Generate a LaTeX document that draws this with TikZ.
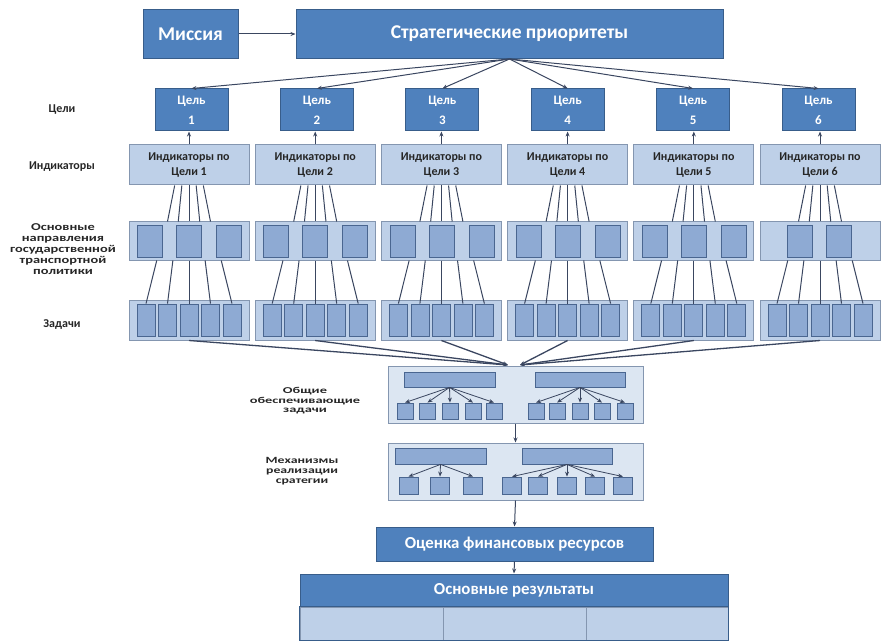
\documentclass[tikz,border=0pt]{standalone}
\usepackage{fontspec}
\setmainfont{Carlito}
\newfontfamily\dirfont[FakeStretch=1.37]{Carlito}
\newfontfamily\genfont[FakeStretch=1.6]{Carlito}
\newfontfamily\mechfont[FakeStretch=1.45]{Carlito}
\usetikzlibrary{arrows,positioning,shapes,calc,arrows.meta}
\definecolor{darkblue}{HTML}{4F81BD}
\definecolor{darkedge}{HTML}{385D8A}
\definecolor{lightblue}{HTML}{BED0E8}
\definecolor{lightedge}{HTML}{8496B0}
\definecolor{midblue}{HTML}{8EAAD3}
\definecolor{midedge}{HTML}{4A6690}
\definecolor{paleblue}{HTML}{DCE6F2}
\definecolor{linecol}{HTML}{3A4660}
\definecolor{labelcol}{HTML}{262626}

\begin{document}
\begin{tikzpicture}[x=1pt,y=-1pt,>={Stealth[length=5pt,width=4pt]},
    darkbox/.style={draw=darkedge,line width=1pt,fill=darkblue,text=white,inner sep=0pt,align=center,font=\fontsize{19.5}{22}\selectfont\bfseries},
    lightbox/.style={draw=lightedge,line width=1pt,fill=lightblue,text=labelcol,inner sep=0pt,align=center,minimum width=120pt,font=\fontsize{12}{15}\selectfont\bfseries},
    panel/.style={draw=lightedge,line width=1pt,fill=lightblue,inner sep=0pt,minimum width=120pt},
    innerbox/.style={draw=midedge,line width=0.8pt,fill=midblue,inner sep=0pt},
    sidelabel/.style={text=labelcol,align=center,font=\fontsize{12}{12}\selectfont\bfseries},
    link/.style={draw=linecol,line width=1pt}
  ]
    \useasboundingbox (0,0) rectangle (885,644);

    % Mission and priorities
    \node[darkbox,minimum width=95pt,minimum height=49pt] (mission) at (190.5,34) {Миссия};
    \node[darkbox,minimum width=427pt,minimum height=49pt] (prio) at (509.5,34) {Стратегические приоритеты};
    \draw[->,link] (mission) -- (prio);

    % Row labels
    \node[sidelabel] (lgoal) at (62,110) {Цели};
    \node[sidelabel] (lind) at (62,167) {Индикаторы};
    \node[sidelabel,font=\dirfont\fontsize{10.5}{11}\selectfont\bfseries] (ldir) at (63,249) {Основные\\направления\\государственной\\транспортной\\политики};
    \node[sidelabel] (ltask) at (62,325) {Задачи};

    % Goals
    \foreach \i in {1,...,6} {
      \node[darkbox,minimum width=73pt,minimum height=42pt,font=\fontsize{13}{20}\selectfont\bfseries] (g\i) at ({191.5+125.4*(\i-1)},110) {Цель\\ \i};
      \draw[->,link] (prio.south) -- (g\i.north);
    }

    % Indicators, directions and tasks per goal
    \foreach \i in {1,...,6} {
      \node[lightbox,minimum height=40pt] (i\i) at ({189+126.2*(\i-1)},165) {Индикаторы по\\Цели \i};
      \draw[->,link] (i\i.north) -- (i\i.north |- g\i.south);
      \node[panel,minimum height=38pt] (d\i) at ({189+126.2*(\i-1)},241) {};
      \node[panel,minimum height=40pt] (t\i) at ({189+126.2*(\i-1)},320) {};
      \foreach \k/\dx in {1/-43,2/-21.5,3/0,4/21.5,5/43} {
        \node[innerbox,minimum width=18pt,minimum height=32pt] (t\i-\k) at ($(t\i)+(\dx,0)$) {};
        \draw[link] ($(i\i.south)+({\dx/3},0)$) -- ($(d\i.north)+({\dx/2},0)$);
        \draw[link] ($(d\i.south)+({\dx*0.75},0)$) -- (t\i-\k.north);
      }
    }
    \foreach \i in {1,...,5} {
      \foreach \k/\dx in {1/-39,2/0,3/40} {
        \node[innerbox,minimum width=25pt,minimum height=32pt] (d\i-\k) at ($(d\i)+(\dx,0)$) {};
      }
    }
    \node[innerbox,minimum width=25pt,minimum height=32pt] (d6-1) at ($(d6)+(-20,0)$) {};
    \node[innerbox,minimum width=25pt,minimum height=32pt] (d6-2) at ($(d6)+(19,0)$) {};

    % Tasks converge
    \coordinate (m1) at (508,365);
    \coordinate (m2) at (520,365);
    \foreach \i in {1,2,3} {\draw[->,link,line width=1.3pt] (t\i.south) -- (m1);}
    \foreach \i in {4,5,6} {\draw[->,link,line width=1.3pt] (t\i.south) -- (m2);}

    % General supporting tasks
    \node[panel,fill=paleblue,minimum width=255pt,minimum height=57pt] (gen) at (515.5,394.5) {};
    \node[innerbox,minimum width=91pt,minimum height=15pt] (gl) at (449.5,379.5) {};
    \node[innerbox,minimum width=90pt,minimum height=15pt] (gr) at (580,379.5) {};
    \foreach \k/\x in {1/405,2/427.5,3/450,4/473,5/494} {
      \node[innerbox,minimum width=16pt,minimum height=16pt] (gs\k) at (\x,411) {};
      \draw[->,link,line width=0.8pt] (gl.south) -- (gs\k.north);
    }
    \foreach \k/\x in {1/536,2/557,3/580,4/602,5/625} {
      \node[innerbox,minimum width=16pt,minimum height=16pt] (gt\k) at (\x,411) {};
      \draw[->,link,line width=0.8pt] (gr.south) -- (gt\k.north);
    }
    \node[sidelabel,font=\genfont\fontsize{9}{9.5}\selectfont\bfseries] (lgen) at (305,401) {Общие\\обеспечивающие\\задачи};

    % Mechanisms
    \node[panel,fill=paleblue,minimum width=255pt,minimum height=57pt] (mech) at (515.5,471.5) {};
    \node[innerbox,minimum width=91pt,minimum height=16pt] (ml) at (440.5,456) {};
    \node[innerbox,minimum width=90pt,minimum height=16pt] (mr) at (567,456) {};
    \foreach \k/\x in {1/408.5,2/440,3/473} {
      \node[innerbox,minimum width=19pt,minimum height=17pt] (ms\k) at (\x,485.5) {};
      \draw[->,link,line width=0.8pt] (ml.south) -- (ms\k.north);
    }
    \foreach \k/\x in {1/512,2/538,3/567,4/595,5/623} {
      \node[innerbox,minimum width=19pt,minimum height=17pt] (mt\k) at (\x,485.5) {};
      \draw[->,link,line width=0.8pt] (mr.south) -- (mt\k.north);
    }
    \node[sidelabel,font=\mechfont\fontsize{9.5}{10}\selectfont\bfseries] (lmech) at (302,471) {Механизмы\\реализации\\сратегии};
    \draw[->,link] (gen.south) -- (mech.north);

    % Finance and results
    \node[darkbox,minimum width=277pt,minimum height=34pt,font=\fontsize{16.8}{18}\selectfont\bfseries] (fin) at (514.5,544) {Оценка финансовых ресурсов};
    \draw[->,link] (mech.south) -- (fin.north);
    \node[darkbox,minimum width=428pt,minimum height=33pt,font=\fontsize{16.8}{18}\selectfont\bfseries] (res) at (514,590.5) {Основные результаты};
    \draw[->,link] (fin.south) -- (res.north);
    \node[panel,minimum width=143pt,minimum height=33pt] (r1) at (371.5,623.5) {};
    \node[panel,minimum width=143pt,minimum height=33pt] (r2) at (514.5,623.5) {};
    \node[panel,minimum width=142pt,minimum height=33pt] (r3) at (657,623.5) {};
    \draw[draw=darkedge,line width=1pt] (r1.north west) rectangle (r3.south east);
\end{tikzpicture}
\end{document}
